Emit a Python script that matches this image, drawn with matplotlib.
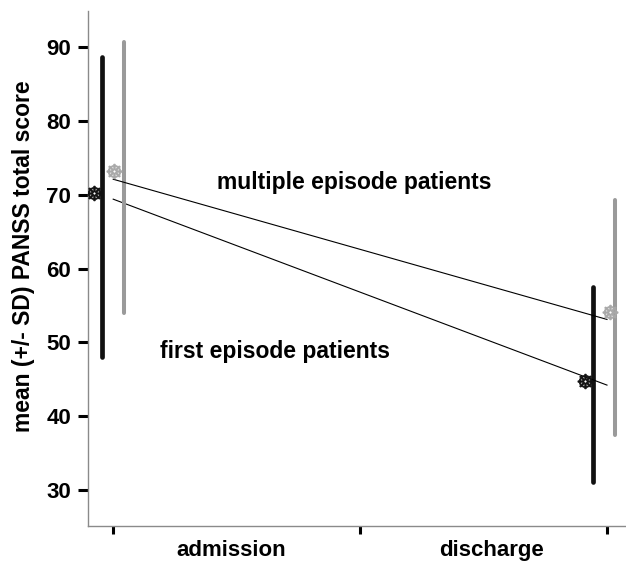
import matplotlib.pyplot as plt

# time points (x positions on the axis) and group data
timepoints = [1.0, 2.0]
xtick_labels = ["admission", "discharge"]
groups = ["first episode patients", "multiple episode patients"]

mean_admission = [70.2, 73.2]
mean_discharge = [44.7, 54.1]
sd_low_admission = [48.0, 54.0]
sd_high_admission = [88.6, 90.7]
sd_low_discharge = [31.1, 37.4]
sd_high_discharge = [57.5, 69.3]
trend_start = [69.4, 72.1]
trend_end = [44.2, 53.1]

plt.rcParams["font.family"] = ["Liberation Sans", "DejaVu Sans"]
plt.rcParams["font.weight"] = "bold"

fig = plt.figure(figsize=(6.26, 5.62), dpi=100)
ax = fig.add_axes([0.1406, 0.064, 0.8594, 0.9164])

bar_colors = ["#111111", "#9a9a9a"]
marker_colors = ["#111111", "#a8a8a8"]
bar_widths = [3.4, 2.9]
bar_offset = [-0.0235, 0.021]
marker_offset = [-0.0385, 0.002]
marker_offset_dis = [-0.0446, 0.006]

for i in range(len(groups)):
    # SD bars
    ax.plot([timepoints[0] + bar_offset[i]] * 2,
            [sd_low_admission[i], sd_high_admission[i]],
            color=bar_colors[i], lw=bar_widths[i], solid_capstyle="round")
    ax.plot([timepoints[1] + bar_offset[i] - 0.005] * 2,
            [sd_low_discharge[i], sd_high_discharge[i]],
            color=bar_colors[i], lw=bar_widths[i], solid_capstyle="round")
    # trend line
    ax.plot(timepoints, [trend_start[i], trend_end[i]], color="black", lw=0.8)
    # means
    ax.scatter([timepoints[0] + marker_offset[i], timepoints[1] + marker_offset_dis[i]],
               [mean_admission[i], mean_discharge[i]],
               marker="$\u2638$", s=120, color=marker_colors[i],
               edgecolors=marker_colors[i], lw=0.6, zorder=5)

ax.text(1.488, 71.7, groups[1], ha="center", va="center", fontsize=16.5, fontweight="bold")
ax.text(1.327, 48.7, groups[0], ha="center", va="center", fontsize=16.5, fontweight="bold")

ax.set_xlim(0.949, 2.0385)
ax.set_ylim(25.1, 94.9)

ax.set_yticks([30, 40, 50, 60, 70, 80, 90])
ax.tick_params(axis="y", length=7, width=2.2, pad=5, labelsize=16)
ax.set_xticks([1.0, 1.5, 2.0])
ax.set_xticklabels([])
ax.tick_params(axis="x", which="major", length=6, width=2.2)
ax.set_xticks([1.239, 1.7655], minor=True)
ax.set_xticklabels(xtick_labels, minor=True, fontsize=16, fontweight="bold")
ax.tick_params(axis="x", which="minor", length=0, pad=10)

ax.set_ylabel("mean (+/- SD) PANSS total score", fontsize=16.5, fontweight="bold")
ax.yaxis.set_label_coords(-0.098, 0.524)

for side in ["top", "right"]:
    ax.spines[side].set_visible(False)
for side in ["left", "bottom"]:
    ax.spines[side].set_color("#8a8a8a")
    ax.spines[side].set_linewidth(1.0)

fig.savefig("out.png", dpi=100)
